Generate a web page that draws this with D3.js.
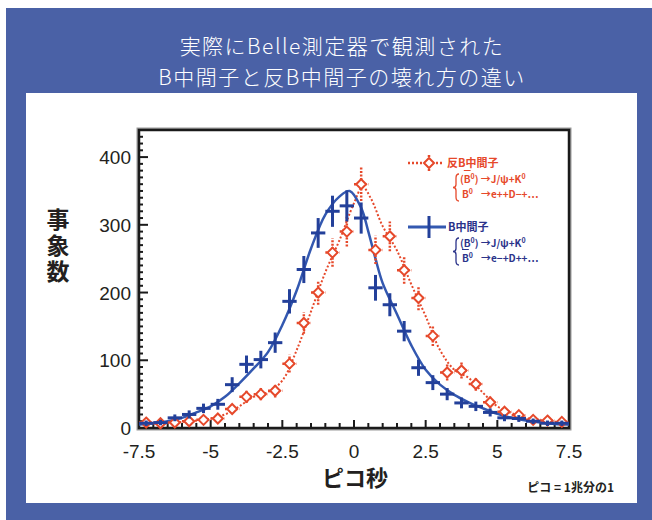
<!DOCTYPE html>
<html>
<head>
<meta charset="utf-8">
<script src="https://cdn.jsdelivr.net/npm/d3@7"></script>
<style>
  html, body { margin: 0; padding: 0; background: #fff; }
  svg { display: block; }
  text { font-family: "Noto Sans CJK JP", "Noto Sans", sans-serif; }
  .tick-label { font-family: "Liberation Sans", Arial, sans-serif; font-size: 19px; fill: #231f20; }
</style>
</head>
<body>
<div id="chart"></div>
<script>
// bin centres in picoseconds (0.5 ps bins)
const binCentres = [-7.25, -6.75, -6.25, -5.75, -5.25, -4.75, -4.25, -3.75, -3.25, -2.75,
  -2.25, -1.75, -1.25, -0.75, -0.25, 0.25, 0.75, 1.25, 1.75, 2.25,
  2.75, 3.25, 3.75, 4.25, 4.75, 5.25, 5.75, 6.25, 6.75, 7.25];

// B meson counts (blue) and anti-B meson counts (red)
const bCounts = [7, 8, 15, 20, 29, 35, 64, 94, 101, 126, 187, 234, 288, 320, 328, 310, 207, 182, 143, 89,
  67, 50, 37, 32, 23, 15, 14, 10, 7, 7];
const bErrors = [4, 4, 5, 6, 7, 8, 11, 13, 13, 15, 18, 20, 22, 23, 23, 23, 19, 17, 15, 12,
  11, 9, 8, 7, 6, 5, 5, 4, 4, 4];
const antiBCounts = [8, 7, 8, 10, 12, 14, 28, 46, 50, 55, 95, 155, 200, 259, 290, 360, 263, 283, 233, 192,
  136, 82, 85, 65, 38, 24, 19, 12, 11, 9];
const antiBErrors = [4, 4, 4, 4, 5, 5, 7, 9, 9, 10, 13, 16, 18, 21, 22, 25, 21, 22, 20, 18,
  15, 12, 12, 10, 8, 6, 5, 4, 4, 4];

// fitted curves
const bFitT = [-7.5, -7, -6.5, -6, -5.5, -5, -4.5, -4, -3.5, -3, -2.5, -2, -1.5, -1, -0.5, -0.15,
  0.25, 0.5, 0.75, 1, 1.5, 2, 2.5, 3, 3.5, 4, 4.5, 5, 5.5, 6, 6.5, 7, 7.5];
const bFitY = [5, 7, 10, 15, 23, 32, 46, 66, 88, 112, 152, 203, 265, 315, 342, 350,
  325, 290, 250, 214, 168, 122, 86, 64, 49, 38, 29, 21, 15, 11, 8, 6, 5];
const antiBFitT = [-7.5, -7, -6.5, -6, -5.5, -5, -4.5, -4, -3.5, -3, -2.5, -2, -1.5, -1, -0.5, 0, 0.3,
  0.6, 1, 1.5, 2, 2.5, 3, 3.5, 4, 4.5, 5, 5.5, 6, 6.5, 7, 7.5];
const antiBFitY = [6, 7, 8, 9, 11, 14, 20, 32, 46, 53, 70, 115, 172, 230, 278, 332, 356,
  338, 298, 262, 212, 165, 115, 86, 74, 52, 32, 22, 15, 11, 9, 7];

const xTicks = [-7.5, -5, -2.5, 0, 2.5, 5, 7.5];
const yTicks = [0, 100, 200, 300, 400];

const titleLines = ["実際にBelle測定器で観測された", "B中間子と反B中間子の壊れ方の違い"];

const W = 652, H = 520;
const blue = "#3358b0", blueDark = "#23409a", blueText = "#2b338a";
const red = "#e6492b";

const svg = d3.select("#chart").append("svg").attr("width", W).attr("height", H);

// panel
svg.append("rect").attr("x", 6).attr("y", 8).attr("width", W - 6).attr("height", H - 8).attr("fill", "#4a61a6");
svg.append("rect").attr("x", 26).attr("y", 93).attr("width", 611).attr("height", 410).attr("fill", "#fff");

svg.selectAll("text.title").data(titleLines).enter().append("text")
  .attr("class", "title")
  .attr("x", 342).attr("y", (d, i) => 54 + i * 31)
  .attr("text-anchor", "middle")
  .attr("fill", "#fff").attr("font-size", 21).attr("font-weight", 300)
  .style("letter-spacing", "1.5px")
  .text(d => d);

const x = d3.scaleLinear().domain([-7.5, 7.5]).range([139, 569]);
const y = d3.scaleLinear().domain([0, 440]).range([428, 130]);

const plot = svg.append("g");

// frame with a soft shadow
plot.append("rect").attr("x", 139).attr("y", 130).attr("width", 430).attr("height", 298)
  .attr("fill", "none").attr("stroke", "#9a9a9a").attr("stroke-width", 5);
plot.append("rect").attr("x", 139).attr("y", 130).attr("width", 430).attr("height", 298)
  .attr("fill", "#fff").attr("stroke", "#1a1a1a").attr("stroke-width", 2.5);

// inward ticks
const xMinor = d3.range(-7.5, 7.51, 0.5);
plot.selectAll("line.xt").data(xMinor).enter().append("line")
  .attr("x1", d => x(d)).attr("x2", d => x(d))
  .attr("y1", 428).attr("y2", d => 428 - (Math.abs(d % 2.5) < 1e-6 ? 8 : 5))
  .attr("stroke", "#1a1a1a").attr("stroke-width", 2);
const yMinor = d3.range(0, 441, 10);
plot.selectAll("line.yt").data(yMinor).enter().append("line")
  .attr("y1", d => y(d)).attr("y2", d => y(d))
  .attr("x1", 139).attr("x2", d => 139 + (d % 100 === 0 ? 9 : 4))
  .attr("stroke", "#1a1a1a").attr("stroke-width", 2);

plot.selectAll("text.xl").data(xTicks).enter().append("text")
  .attr("class", "tick-label")
  .attr("x", d => x(d)).attr("y", 458).attr("text-anchor", "middle")
  .text(d => String(d));
plot.selectAll("text.yl").data(yTicks).enter().append("text")
  .attr("class", "tick-label")
  .attr("x", 131).attr("y", d => y(d) + 7).attr("text-anchor", "end")
  .text(d => d);

// axis titles
svg.append("text").attr("x", 58).attr("y", 208)
  .attr("font-size", 23).attr("font-weight", 700).attr("fill", "#231f20")
  .style("writing-mode", "vertical-rl").style("letter-spacing", "3px")
  .text("事象数");
svg.append("text").attr("x", 355).attr("y", 486).attr("text-anchor", "middle")
  .attr("font-size", 22).attr("font-weight", 700).attr("fill", "#231f20").text("ピコ秒");
svg.append("text").attr("x", 614).attr("y", 492).attr("text-anchor", "end")
  .attr("font-size", 12).attr("font-weight", 700).attr("fill", "#231f20").text("ピコ = 1兆分の1");

// fit curves
const line = d3.line().x(d => x(d[0])).y(d => y(d[1])).curve(d3.curveCatmullRom);
plot.append("path").datum(d3.zip(antiBFitT, antiBFitY)).attr("d", line)
  .attr("fill", "none").attr("stroke", red).attr("stroke-width", 2).attr("stroke-dasharray", "2,2");
plot.append("path").datum(d3.zip(bFitT, bFitY)).attr("d", line)
  .attr("fill", "none").attr("stroke", blue).attr("stroke-width", 2.5);

// anti-B points: dotted error bars + open diamond
const redPts = plot.selectAll("g.red").data(d3.zip(binCentres, antiBCounts, antiBErrors)).enter().append("g");
redPts.append("line")
  .attr("x1", d => x(d[0] - 0.25)).attr("x2", d => x(d[0] + 0.25))
  .attr("y1", d => y(d[1])).attr("y2", d => y(d[1]))
  .attr("stroke", red).attr("stroke-width", 2.5).attr("stroke-dasharray", "2,1.5");
redPts.append("line")
  .attr("x1", d => x(d[0])).attr("x2", d => x(d[0]))
  .attr("y1", d => y(d[1] - d[2])).attr("y2", d => y(d[1] + d[2]))
  .attr("stroke", red).attr("stroke-width", 2.5).attr("stroke-dasharray", "2,1.5");
redPts.append("path")
  .attr("d", d => {
    const cx = x(d[0]), cy = y(d[1]), r = 5;
    return `M${cx},${cy - r}L${cx + r},${cy}L${cx},${cy + r}L${cx - r},${cy}Z`;
  })
  .attr("fill", "#fff").attr("stroke", red).attr("stroke-width", 2);

// B points: solid crosses
const bluePts = plot.selectAll("g.blue").data(d3.zip(binCentres, bCounts, bErrors)).enter().append("g");
bluePts.append("line")
  .attr("x1", d => x(d[0] - 0.25)).attr("x2", d => x(d[0] + 0.25))
  .attr("y1", d => y(d[1])).attr("y2", d => y(d[1]))
  .attr("stroke", blueDark).attr("stroke-width", 3);
bluePts.append("line")
  .attr("x1", d => x(d[0])).attr("x2", d => x(d[0]))
  .attr("y1", d => y(d[1] - d[2])).attr("y2", d => y(d[1] + d[2]))
  .attr("stroke", blueDark).attr("stroke-width", 3);

// legend
const leg = svg.append("g").attr("font-weight", 700);
leg.append("line").attr("x1", 408).attr("x2", 444).attr("y1", 163).attr("y2", 163)
  .attr("stroke", red).attr("stroke-width", 2.5).attr("stroke-dasharray", "2,2");
leg.append("line").attr("x1", 429).attr("x2", 429).attr("y1", 155).attr("y2", 171)
  .attr("stroke", red).attr("stroke-width", 2.5).attr("stroke-dasharray", "2,1.5");
leg.append("path").attr("d", "M429,158L434,163L429,168L424,163Z")
  .attr("fill", "#fff").attr("stroke", red).attr("stroke-width", 2);
leg.append("text").attr("x", 447).attr("y", 167).attr("font-size", 11).attr("fill", red).text("反B中間子");

leg.append("line").attr("x1", 408).attr("x2", 446).attr("y1", 227).attr("y2", 227)
  .attr("stroke", blue).attr("stroke-width", 3);
leg.append("line").attr("x1", 429).attr("x2", 429).attr("y1", 216).attr("y2", 238)
  .attr("stroke", blueDark).attr("stroke-width", 3);
leg.append("text").attr("x", 448).attr("y", 231).attr("font-size", 11).attr("fill", blueText).text("B中間子");

function decayLines(g, y0, color, firstBar, secondBar, lepton, dCharge) {
  // curly brace joining the two decay modes
  const bx = 456, top = y0 - 9, bot = y0 + 18, mid = (top + bot) / 2;
  g.append("path")
    .attr("d", `M${bx + 3},${top} Q${bx},${top} ${bx},${top + 4} L${bx},${mid - 3} Q${bx},${mid} ${bx - 3},${mid}`
      + ` Q${bx},${mid} ${bx},${mid + 3} L${bx},${bot - 4} Q${bx},${bot} ${bx + 3},${bot}`)
    .attr("fill", "none").attr("stroke", color).attr("stroke-width", 1.3);
  const t1 = g.append("text").attr("x", 460).attr("y", y0).attr("font-size", 10).attr("fill", color);
  t1.append("tspan").text("(");
  t1.append("tspan").attr("text-decoration", firstBar ? "overline" : null).text("B");
  t1.append("tspan").attr("font-size", 7).attr("dy", -4).text("0");
  t1.append("tspan").attr("dy", 4).text(") →J/ψ+K");
  t1.append("tspan").attr("font-size", 7).attr("dy", -4).text("0");
  const t2 = g.append("text").attr("x", 462).attr("y", y0 + 15).attr("font-size", 10).attr("fill", color);
  t2.append("tspan").attr("text-decoration", secondBar ? "overline" : null).text("B");
  t2.append("tspan").attr("font-size", 7).attr("dy", -4).text("0");
  t2.append("tspan").attr("dy", 4).attr("dx", 8).text("→e" + lepton + "+D" + dCharge + "+…");
}
decayLines(leg, 183, red, true, false, "+", "−");
decayLines(leg, 247, blueText, false, true, "−", "+");
</script>
</body>
</html>
